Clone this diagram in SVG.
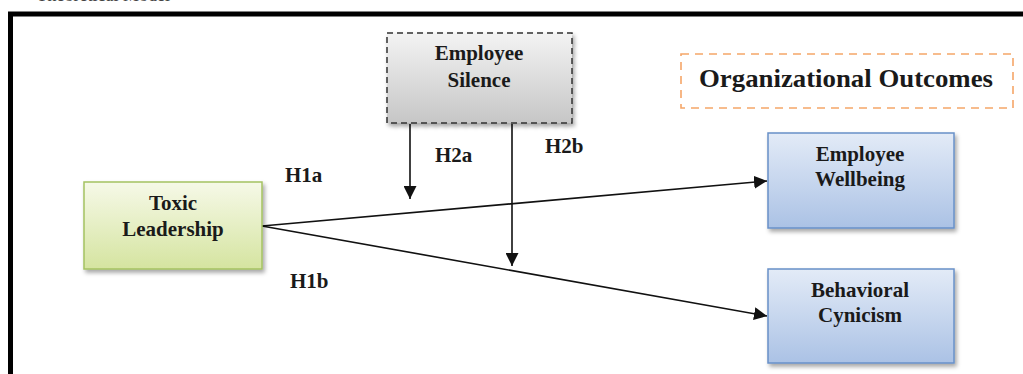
<svg xmlns="http://www.w3.org/2000/svg" width="1023" height="374" viewBox="0 0 1023 374">
  <style>
    .lbl { font-family: "Liberation Serif", "Times New Roman", serif; font-weight: bold; fill: #1a1a1a; }
    .node-text { font-size: 21px; text-anchor: middle; }
    .hyp { font-size: 21px; }
    .conn { stroke: #111; stroke-width: 1.6; fill: none; }
  </style>
  <defs>
    <linearGradient id="gGray" x1="0" y1="0" x2="0" y2="1">
      <stop offset="0" stop-color="#f3f3f3"/>
      <stop offset="1" stop-color="#c6c6c6"/>
    </linearGradient>
    <linearGradient id="gGreen" x1="0" y1="0" x2="0" y2="1">
      <stop offset="0" stop-color="#f6f9e8"/>
      <stop offset="1" stop-color="#d5e4a0"/>
    </linearGradient>
    <linearGradient id="gBlue" x1="0" y1="0" x2="0" y2="1">
      <stop offset="0" stop-color="#e3ebf7"/>
      <stop offset="1" stop-color="#abc2e5"/>
    </linearGradient>
    <filter id="shadow" x="-10%" y="-10%" width="125%" height="130%">
      <feDropShadow dx="2" dy="3" stdDeviation="2" flood-color="#000" flood-opacity="0.35"/>
    </filter>
    <marker id="arrowLg" viewBox="0 0 10 10" refX="10" refY="5" markerWidth="13" markerHeight="13" markerUnits="userSpaceOnUse" orient="auto">
      <path d="M0,0 L10,5 L0,10 z" fill="#111"/>
    </marker>
  </defs>

  <rect width="1023" height="374" fill="#ffffff"/>

  <!-- caption above the frame, running off the top edge -->
  <text x="170" y="1" class="lbl" style="font-size:18px;font-weight:normal;fill:#444" text-anchor="end">Theoretical Model</text>

  <!-- outer frame -->
  <rect x="10.5" y="14" width="1030" height="380" fill="none" stroke="#000" stroke-width="5"/>

  <!-- connectors -->
  <g id="connectors">
    <line class="conn" x1="262" y1="226" x2="767" y2="181" marker-end="url(#arrowLg)"/>
    <line class="conn" x1="262" y1="226" x2="767" y2="316" marker-end="url(#arrowLg)"/>
    <line class="conn" x1="410" y1="124" x2="410" y2="199" marker-end="url(#arrowLg)"/>
    <line class="conn" x1="512" y1="124" x2="512" y2="266" marker-end="url(#arrowLg)"/>
  </g>

  <!-- hypothesis labels -->
  <g id="labels">
    <text class="lbl hyp" x="285" y="182">H1a</text>
    <text class="lbl hyp" x="290" y="288">H1b</text>
    <text class="lbl hyp" x="435" y="162">H2a</text>
    <text class="lbl hyp" x="545" y="153">H2b</text>
  </g>

  <g id="employee-silence">
    <rect x="387" y="33" width="185" height="90" fill="url(#gGray)" stroke="#333" stroke-width="1.5" stroke-dasharray="6 4" filter="url(#shadow)"/>
    <text class="lbl node-text" x="479" y="60">Employee</text>
    <text class="lbl node-text" x="479" y="87">Silence</text>
  </g>

  <g id="organizational-outcomes">
    <rect x="681" y="54" width="332" height="54" fill="#ffffff" stroke="#f5a668" stroke-width="1.6" stroke-dasharray="8 6"/>
    <text class="lbl" x="846" y="87" style="font-size:26px" text-anchor="middle" textLength="294" lengthAdjust="spacingAndGlyphs">Organizational Outcomes</text>
  </g>

  <g id="toxic-leadership">
    <rect x="84" y="182" width="178" height="87" fill="url(#gGreen)" stroke="#a4c262" stroke-width="1.5" filter="url(#shadow)"/>
    <text class="lbl node-text" x="173" y="210">Toxic</text>
    <text class="lbl node-text" x="173" y="236">Leadership</text>
  </g>

  <g id="employee-wellbeing">
    <rect x="768" y="133" width="186" height="95" fill="url(#gBlue)" stroke="#6890c8" stroke-width="1.5" filter="url(#shadow)"/>
    <text class="lbl node-text" x="860" y="161">Employee</text>
    <text class="lbl node-text" x="860" y="186">Wellbeing</text>
  </g>

  <g id="behavioral-cynicism">
    <rect x="768" y="269" width="186" height="94" fill="url(#gBlue)" stroke="#6890c8" stroke-width="1.5" filter="url(#shadow)"/>
    <text class="lbl node-text" x="860" y="297">Behavioral</text>
    <text class="lbl node-text" x="860" y="322">Cynicism</text>
  </g>
</svg>
